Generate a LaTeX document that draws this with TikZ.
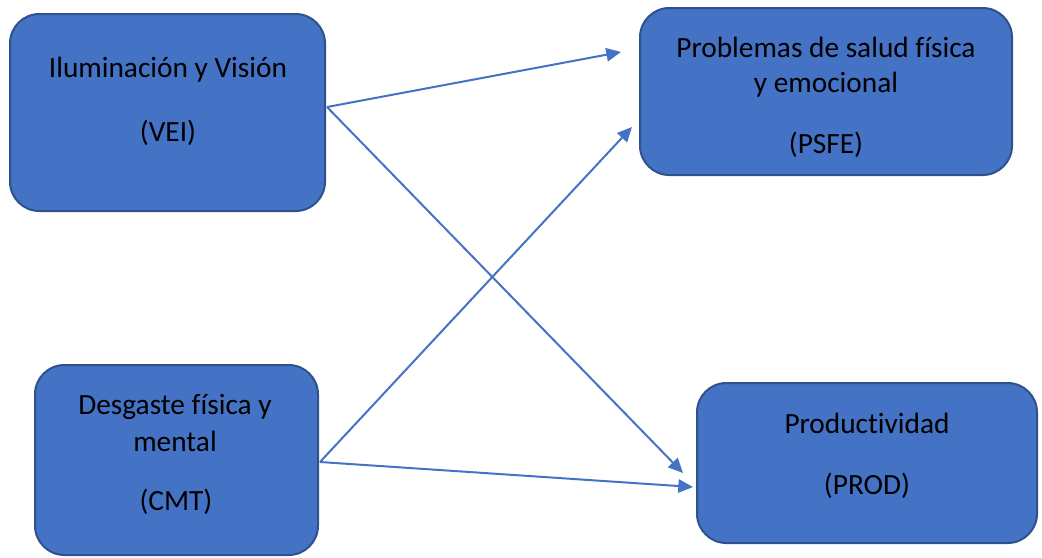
\documentclass[tikz,border=0pt]{standalone}
\usepackage{fontspec}
\setmainfont[Ligatures={NoCommon}]{Carlito}
\usetikzlibrary{arrows.meta}
\definecolor{boxfill}{HTML}{4472C4}
\definecolor{boxline}{HTML}{2F528F}
\begin{document}
\begin{tikzpicture}[x=0.75pt,y=-0.75pt,
  box/.style={draw=boxline,line width=1.5pt,fill=boxfill,rounded corners=22pt},
  lbl/.style={inner sep=0pt,font=\fontsize{22}{26}\selectfont,text=black},
  conn/.style={draw=boxfill,line width=1.5pt,-{Triangle[length=11pt,width=10pt]}}]
\useasboundingbox (0,0) rectangle (1042,557);
\draw[box] (10,14) rectangle (325,211);
\draw[box] (640,8) rectangle (1012,175);
\draw[box] (35,365) rectangle (318,555);
\draw[box] (697,383) rectangle (1037,543);
\node[lbl] (vei1) at (168,70) {Iluminación y Visión};
\node[lbl] (vei2) at (168,133) {(VEI)};
\node[lbl] (psfe1) at (826,47) {Problemas de salud física};
\node[lbl] (psfe2) at (826,85) {y emocional};
\node[lbl] (psfe3) at (826,145) {(PSFE)};
\node[lbl] (cmt1) at (175,407) {Desgaste física y};
\node[lbl] (cmt2) at (175,441) {mental};
\node[lbl] (cmt3) at (176,502) {(CMT)};
\node[lbl] (prod1) at (867,423) {Productividad};
\node[lbl] (prod2) at (867,486) {(PROD)};
\coordinate (s1) at (327,107);
\coordinate (s2) at (320,462);
\coordinate (t1) at (621,52);
\coordinate (t2) at (683,473);
\coordinate (t3) at (632,127);
\coordinate (t4) at (693,487);
\draw[conn] (s1) -- (t1);
\draw[conn] (s1) -- (t2);
\draw[conn] (s2) -- (t3);
\draw[conn] (s2) -- (t4);
\end{tikzpicture}
\end{document}
